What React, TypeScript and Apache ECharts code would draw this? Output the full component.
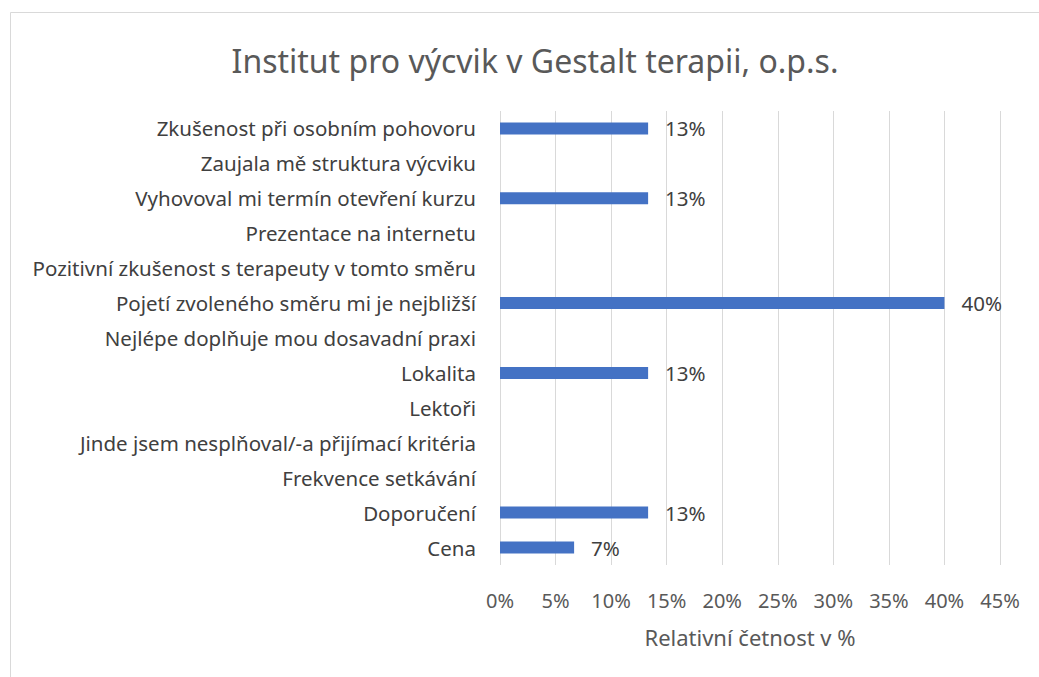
import React, { useEffect, useRef } from "react";
import * as echarts from "echarts";

const categories = [
  "Zkušenost při osobním pohovoru",
  "Zaujala mě struktura výcviku",
  "Vyhovoval mi termín otevření kurzu",
  "Prezentace na internetu",
  "Pozitivní zkušenost s terapeuty v tomto směru",
  "Pojetí zvoleného směru mi je nejbližší",
  "Nejlépe doplňuje mou dosavadní praxi",
  "Lokalita",
  "Lektoři",
  "Jinde jsem nesplňoval/-a přijímací kritéria",
  "Frekvence setkávání",
  "Doporučení",
  "Cena",
];
const values: number[] = [13.33, 0, 13.33, 0, 0, 40, 0, 13.33, 0, 0, 0, 13.33, 6.67];

const FONT = "'Noto Sans', sans-serif";

export default function App() {
  const ref = useRef<HTMLDivElement>(null);
  useEffect(() => {
    const chart = echarts.init(ref.current!, null, { renderer: "svg" });
    const cats = [...categories].reverse();
    const vals = [...values].reverse();
    chart.setOption({
      animation: false,
      textStyle: { fontFamily: FONT },
      title: {
        text: "Institut pro výcvik v Gestalt terapii, o.p.s.",
        left: 530,
        textAlign: "center",
        top: 39,
        textStyle: { fontFamily: FONT, fontSize: 32, fontWeight: "normal", color: "#595959" },
      },
      graphic: [
        {
          type: "rect",
          shape: { x: 10.5, y: 12.5, width: 1100, height: 700 },
          style: { fill: "none", stroke: "#d9d9d9", lineWidth: 1 },
          silent: true,
        },
      ],
      grid: { left: 500, right: 39, top: 111, bottom: 112 },
      xAxis: {
        type: "value",
        min: 0,
        max: 45,
        interval: 5,
        axisLine: { show: false },
        axisTick: { show: false },
        splitLine: { show: true, lineStyle: { color: "#d9d9d9", width: 1 } },
        axisLabel: { formatter: "{value}%", color: "#595959", fontSize: 20, margin: 25, fontFamily: FONT },
        name: "Relativní četnost v %",
        nameLocation: "middle",
        nameGap: 61,
        nameTextStyle: { color: "#595959", fontSize: 22, fontFamily: FONT },
      },
      yAxis: {
        type: "category",
        data: cats,
        axisLine: { show: false },
        axisTick: { show: false },
        axisLabel: { color: "#404040", fontSize: 20.5, margin: 24, fontFamily: FONT },
      },
      series: [
        {
          type: "bar",
          data: vals.map((v) => (v === 0 ? null : v)),
          barWidth: 12,
          itemStyle: { color: "#4472C4" },
          label: {
            show: true,
            position: "right",
            distance: 17,
            formatter: (p: any) => `${Math.round(p.value)}%`,
            color: "#404040",
            fontSize: 20.5,
            fontFamily: FONT,
          },
        },
      ],
    });
    return () => chart.dispose();
  }, []);
  return <div ref={ref} style={{ width: 1039, height: 677, position: "absolute", left: 0, top: 0 }} />;
}
